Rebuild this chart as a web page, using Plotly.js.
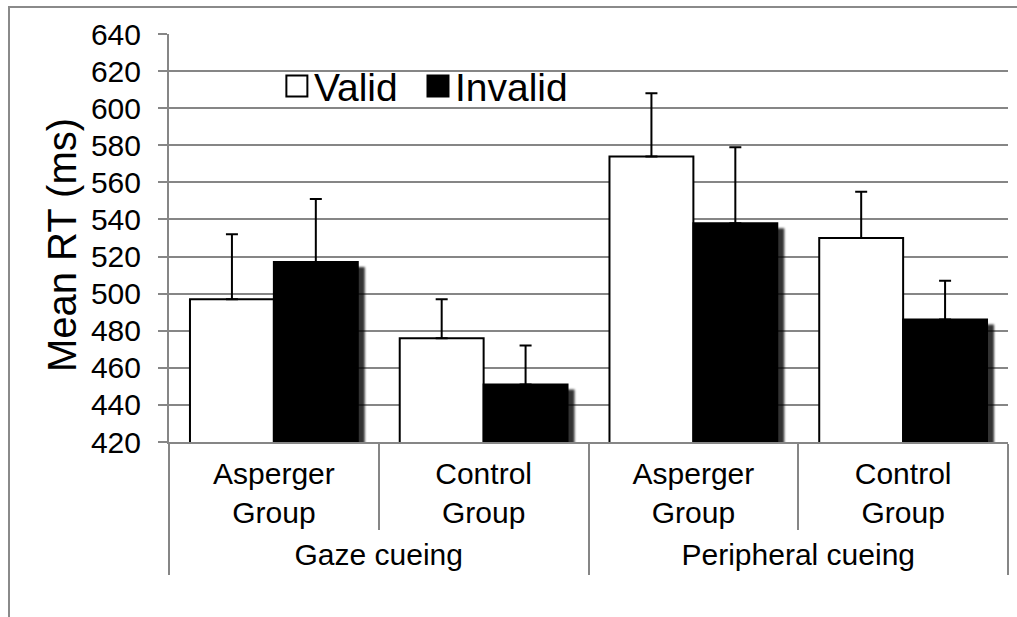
<!DOCTYPE html>
<html>
<head>
<meta charset="utf-8">
<script src="https://cdn.plot.ly/plotly-3.0.1.min.js"></script>
<style>
  html, body { margin: 0; padding: 0; background: #ffffff; }
  #wrap { position: relative; width: 1017px; height: 617px; overflow: hidden; }
  #chart { position: absolute; left: 0; top: 0; width: 1017px; height: 617px; }
  #frame { position: absolute; left: 8px; top: 6px; width: 1020px; height: 620px;
           border-top: 2px solid #8a8a8a; border-left: 2px solid #8a8a8a; pointer-events: none; }
</style>
</head>
<body>
<div id="wrap">
  <div id="chart"></div>
  <div id="frame"></div>
</div>
<script>
// ---- data ----
var cueTypes = ['Gaze cueing', 'Gaze cueing', 'Peripheral cueing', 'Peripheral cueing'];
var groups = ['Asperger<br>Group', 'Control<br>Group', 'Asperger<br>Group', 'Control<br>Group'];
var validRT = [497, 476, 574, 530];
var invalidRT = [517, 451, 538, 486];
var validErr = [35, 21, 34, 25];
var invalidErr = [34, 21, 41, 21];
var seriesNames = ['Valid', 'Invalid'];

var FONT = 'Liberation Sans, Arial, sans-serif';
var GRID = '#868686';

function zeros(a) { return a.map(function () { return 0; }); }

var traces = [
  {
    type: 'bar', name: seriesNames[0], legend: 'legend',
    x: [cueTypes, groups], y: validRT,
    marker: { color: '#ffffff', line: { color: '#000000', width: 2 } },
    error_y: { type: 'data', symmetric: false, array: validErr, arrayminus: zeros(validErr),
               color: '#000000', thickness: 2, width: 6 }
  },
  {
    type: 'bar', name: seriesNames[1], legend: 'legend2',
    x: [cueTypes, groups], y: invalidRT,
    marker: { color: '#000000', line: { color: '#000000', width: 2 } },
    error_y: { type: 'data', symmetric: false, array: invalidErr, arrayminus: zeros(invalidErr),
               color: '#000000', thickness: 2, width: 6 }
  }
];

var legendStyle = function (xpos) {
  return {
    orientation: 'h', x: xpos, xanchor: 'left', y: 0.872, yanchor: 'middle',
    font: { family: FONT, size: 39, color: '#000000' },
    bgcolor: 'rgba(0,0,0,0)', borderwidth: 0, traceorder: 'normal'
  };
};

var layout = {
  width: 1017, height: 617,
  margin: { l: 169, r: 9, t: 34, b: 175, pad: 0 },
  paper_bgcolor: 'rgba(0,0,0,0)', plot_bgcolor: 'rgba(0,0,0,0)',
  font: { family: FONT, color: '#000000', size: 30 },
  barmode: 'group', bargap: 0.2, bargroupgap: 0,
  showlegend: true,
  legend: legendStyle(0.125),
  legend2: legendStyle(0.2932),
  xaxis: {
    type: 'multicategory',
    showline: true, linecolor: GRID, linewidth: 2,
    showgrid: false, zeroline: false,
    showdividers: true, dividercolor: GRID, dividerwidth: 2,
    ticks: 'outside', tickson: 'boundaries', ticklen: 86, tickcolor: GRID, tickwidth: 2,
    tickfont: { family: FONT, size: 30, color: '#000000' }
  },
  yaxis: {
    range: [420, 640], tick0: 420, dtick: 20,
    showgrid: true, gridcolor: GRID, gridwidth: 2,
    showline: true, linecolor: GRID, linewidth: 2,
    zeroline: false,
    ticks: 'outside', ticklen: 9, tickcolor: GRID, tickwidth: 2,
    ticklabelstandoff: 11,
    tickfont: { family: FONT, size: 30, color: '#000000' },
    title: { text: 'Mean RT (ms)', font: { family: FONT, size: 40, color: '#000000' }, standoff: 2 }
  }
};

function prependShift(el, dx, dy) {
  var t = el.getAttribute('transform') || '';
  el.setAttribute('transform', 'translate(' + dx + ',' + dy + ') ' + t);
}

Plotly.newPlot('chart', traces, layout, { staticPlot: true, displayModeBar: false }).then(function (gd) {
  // drop shadow of the dark bars
  var barTraces = gd.querySelectorAll('.barlayer .trace');
  if (barTraces.length > 1) {
    var pts = barTraces[1].querySelector('.points');
    if (pts) pts.style.filter = 'drop-shadow(6px 6px 1px rgba(0,0,0,0.8))';
  }
  // larger legend swatches
  gd.querySelectorAll('.legendpoints path').forEach(function (p) {
    p.setAttribute('d', 'M13.5,10.5H-7.5V-10.5H13.5Z');
  });
  // group labels a little lower
  gd.querySelectorAll('g.xtick text').forEach(function (t) { prependShift(t, 0, 4); });
  // outer category labels lower
  gd.querySelectorAll('g.xtick2 text').forEach(function (t) { prependShift(t, 0, 11); });
  // longer dividers
  gd.querySelectorAll('path.xdivider').forEach(function (p) {
    var r = p.getBoundingClientRect();
    var extra = 575 - r.bottom;
    var d = p.getAttribute('d') || '';
    var nd = d.replace(/v(-?[\d.]+)/, function (m, n) { return 'v' + (parseFloat(n) + extra); });
    p.setAttribute('d', nd);
  });
  // y title centred a little lower
  var yt = gd.querySelector('.ytitle');
  if (yt) prependShift(yt, 0, 7);
});
</script>
</body>
</html>
